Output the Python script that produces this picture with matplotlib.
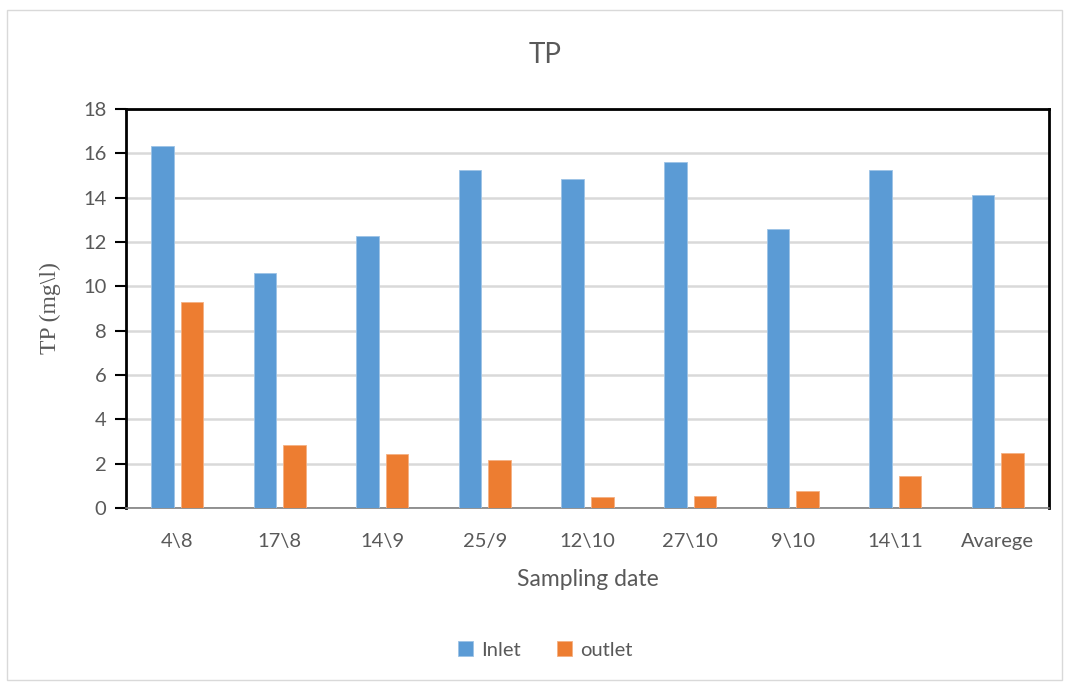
import matplotlib
matplotlib.use("Agg")
import matplotlib.pyplot as plt
import numpy as np
from matplotlib.patches import Rectangle

categories = ["4\\8", "17\\8", "14\\9", "25/9", "12\\10", "27\\10", "9\\10", "14\\11", "Avarege"]
inlet = [16.35, 10.6, 12.27, 15.27, 14.86, 15.62, 12.57, 15.26, 14.11]
outlet = [9.29, 2.85, 2.42, 2.15, 0.51, 0.53, 0.78, 1.43, 2.49]
yticks = [0, 2, 4, 6, 8, 10, 12, 14, 16, 18]

BLUE = "#5B9BD5"
ORANGE = "#ED7D31"
TXT = "#595959"
FONT = "Lato"

fig = plt.figure(figsize=(10.70, 6.83), dpi=100)
fig.patch.set_facecolor("white")
fig.patches.append(Rectangle((7/1070, 3/683), 1055/1070, 670/683, transform=fig.transFigure,
                             fill=False, edgecolor="#D9D9D9", linewidth=1.0))

ax = fig.add_axes([126/1070, 1 - 508/683, (1049 - 126)/1070, (508 - 109)/683])
x = np.arange(len(categories))
w = 0.22
off = 0.144
ax.bar(x - off, inlet, w, color=BLUE, edgecolor="#9DC3E6", linewidth=0.6, label="Inlet", zorder=3)
ax.bar(x + off, outlet, w, color=ORANGE, edgecolor="#F4B183", linewidth=0.6, label="outlet", zorder=3)

ax.set_xlim(-0.5, len(categories) - 0.5)
ax.set_ylim(0, 18)
ax.set_yticks(yticks)
ax.set_yticklabels([str(t) for t in yticks], fontsize=14.5, color=TXT, family=FONT)
ax.set_xticks(x)
ax.set_xticklabels(categories, fontsize=14.5, color=TXT, family=FONT)
ax.yaxis.grid(True, color="#D9D9D9", linewidth=1.8, zorder=0)
ax.set_axisbelow(True)

for s in ["left", "top", "right"]:
    ax.spines[s].set_color("black")
    ax.spines[s].set_linewidth(2.0)
ax.spines["bottom"].set_color("#808080")
ax.spines["bottom"].set_linewidth(1.2)
ax.tick_params(axis="y", direction="out", length=8, width=1.5, color="black", pad=6)
ax.tick_params(axis="x", length=0, pad=18)

ax.set_xlabel("Sampling date", fontsize=16.5, color=TXT, family=FONT, labelpad=14)
ax.set_ylabel("TP (mg\\l)", fontsize=17, color=TXT, family="Liberation Serif", labelpad=16)

fig.text(545/1070, 1 - 55/683, "TP", ha="center", va="center", fontsize=20, color=TXT, family=FONT)

leg = fig.legend(loc="center", bbox_to_anchor=(545/1070, 1 - 650/683), ncol=2, frameon=False,
                 prop={"family": FONT, "size": 14.5}, handlelength=0.75, handleheight=0.75,
                 columnspacing=1.8, handletextpad=0.4)
for t in leg.get_texts():
    t.set_color(TXT)

fig.savefig("out.png", dpi=100, facecolor="white")
